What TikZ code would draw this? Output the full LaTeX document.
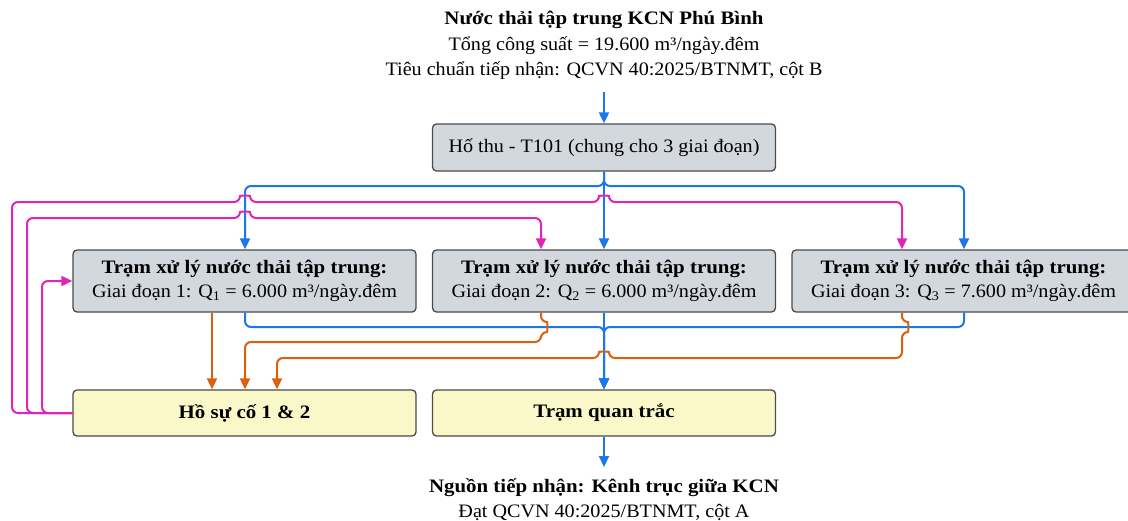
\documentclass[tikz,border=0pt]{standalone}
\usepackage{fontspec}
\setmainfont{Liberation Serif}[FakeStretch=1.06, BoldFeatures={FakeStretch=1.1}]
\usetikzlibrary{arrows.meta}
\definecolor{flowblue}{HTML}{1A78EA}
\definecolor{flowpink}{HTML}{E024B4}
\definecolor{floworange}{HTML}{D9600E}
\definecolor{boxgray}{HTML}{D3D7DE}
\definecolor{boxyellow}{HTML}{FAF8C8}
\definecolor{edgegray}{HTML}{4A4A4A}
\begin{document}
\begin{tikzpicture}[x=1pt,y=-1pt,
  basebox/.style={draw=edgegray, line width=1.3pt, rounded corners=4pt,
    minimum width=343pt, align=center, inner sep=0pt,
    font=\fontsize{19}{24}\selectfont},
  stagebox/.style={basebox, fill=boxgray, minimum height=62pt},
  pondbox/.style={basebox, fill=boxyellow, minimum height=46pt},
  caption/.style={align=center, inner sep=0pt, font=\fontsize{19}{25.5}\selectfont},
  flow/.style={line width=2pt, rounded corners=6pt,
    -{Triangle[length=11pt,width=10pt]}},
  blueflow/.style={flow, draw=flowblue},
  pinkflow/.style={flow, draw=flowpink},
  orangeflow/.style={flow, draw=floworange}]
\useasboundingbox (0,0) rectangle (1128,520);

% source and receiving water
\node[caption] (src) at (604,45.5)
  {\textbf{Nước thải tập trung KCN Phú Bình}\\
   Tổng công suất = 19.600 m³/ngày.đêm\\
   Tiêu chuẩn tiếp nhận: QCVN 40:2025/BTNMT, cột B};
\node[caption] (recv) at (604,499.5)
  {\textbf{Nguồn tiếp nhận: Kênh trục giữa KCN}\\
   Đạt QCVN 40:2025/BTNMT, cột A};
\coordinate (srcout) at (604,92);
\coordinate (recvin) at (604,467);

% process units
\node[stagebox, minimum height=47pt] (sump) at (604,147.5)
  {Hố thu - T101 (chung cho 3 giai đoạn)};
\node[stagebox] (s1) at (244.5,281)
  {\textbf{Trạm xử lý nước thải tập trung:}\\
   Giai đoạn 1: Q\textsubscript{1} = 6.000 m³/ngày.đêm};
\node[stagebox] (s2) at (604,281)
  {\textbf{Trạm xử lý nước thải tập trung:}\\
   Giai đoạn 2: Q\textsubscript{2} = 6.000 m³/ngày.đêm};
\node[stagebox] (s3) at (963.5,281)
  {\textbf{Trạm xử lý nước thải tập trung:}\\
   Giai đoạn 3: Q\textsubscript{3} = 7.600 m³/ngày.đêm};
\node[pondbox] (pond) at (244.5,413) {\textbf{Hồ sự cố 1 \& 2}};
\node[pondbox] (monitor) at (604,413) {\textbf{Trạm quan trắc}};

% main wastewater flow
\draw[blueflow] (srcout) -- (sump.north);
\draw[blueflow] (sump.south) -- (s2.north);
\draw[blueflow] (sump.south) -- (604,186) -- (245,186) -- (245,0 |- s1.north);
\draw[blueflow] (sump.south) -- (604,186) -- (964,186) -- (964,0 |- s3.north);
\draw[blueflow] (245,0 |- s1.south) -- (245,327) -- (604,327) -- (monitor.north);
\draw[blueflow] (964,0 |- s3.south) -- (964,327) -- (604,327) -- (monitor.north);
\draw[blueflow] (s2.south) -- (monitor.north);
\draw[blueflow] (monitor.south) -- (recvin);

% overflow to the emergency ponds
\draw[orangeflow] (212,0 |- s1.south) -- (212,0 |- pond.north);
\draw[orangeflow] (541,0 |- s2.south) -- (541,322)
  .. controls (547.5,322) and (547.5,332) .. (541,332)
  -- (541,342) -- (245,342) -- (245,0 |- pond.north);
\draw[orangeflow] (902,0 |- s3.south) -- (902,322)
  .. controls (908.5,322) and (908.5,332) .. (902,332)
  -- (902,358) -- (609,358)
  .. controls (609,351.5) and (599,351.5) .. (599,358)
  -- (277,358) -- (277,0 |- pond.north);

% return from the emergency ponds
\draw[pinkflow] (pond.west) -- (12,413) -- (12,202) -- (240,202)
  .. controls (240,195.5) and (250,195.5) .. (250,202)
  -- (599,202)
  .. controls (599,195.5) and (609,195.5) .. (609,202)
  -- (902,202) -- (902,0 |- s3.north);
\draw[pinkflow] (pond.west) -- (27,413) -- (27,218) -- (240,218)
  .. controls (240,211.5) and (250,211.5) .. (250,218)
  -- (541,218) -- (541,0 |- s2.north);
\draw[pinkflow] (pond.west) -- (42,413) -- (42,0 |- s1.west) -- (s1.west);
\end{tikzpicture}
\end{document}
